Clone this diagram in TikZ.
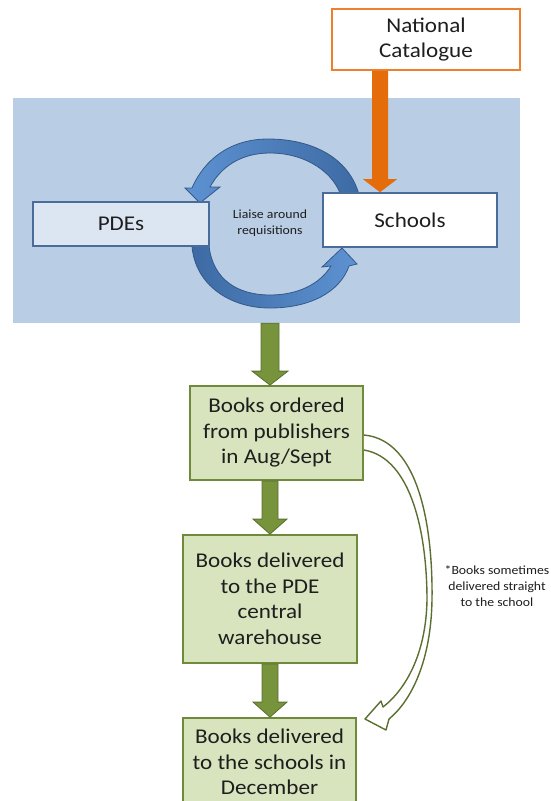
\documentclass[tikz,border=0pt]{standalone}
\usepackage{fontspec}
\setmainfont{Carlito}[FakeStretch=1.1]
\usetikzlibrary{calc}
\definecolor{bgblue}{HTML}{B9CDE5}
\definecolor{pdefill}{HTML}{DCE6F2}
\definecolor{boxblue}{HTML}{4A6C9B}
\definecolor{arrdark}{HTML}{3D6AA3}
\definecolor{arrlight}{HTML}{5D92D2}
\definecolor{arrborder}{HTML}{34598A}
\definecolor{orangeA}{HTML}{E46C0A}
\definecolor{orangeB}{HTML}{EE7F2D}
\definecolor{gfill}{HTML}{D7E4BD}
\definecolor{gborder}{HTML}{6F8A3A}
\definecolor{garrow}{HTML}{77933C}
\definecolor{garrowb}{HTML}{5A7030}
\definecolor{txt}{HTML}{1E1E1E}
\tikzset{
  bigtext/.style={font=\fontsize{21}{25.5}\selectfont, text=txt, align=center, inner sep=0pt},
  smalltext/.style={font=\fontsize{12.5}{16}\selectfont, text=txt, align=center, inner sep=0pt},
  bluebox/.style={bigtext, draw=boxblue, line width=1.6pt},
  orangebox/.style={bigtext, draw=orangeB, fill=white, line width=1.8pt},
  greenbox/.style={bigtext, draw=gborder, fill=gfill, line width=1.8pt},
  circarrow/.style={draw=arrborder, line width=0.8pt},
  greenarrow/.style={fill=garrow, draw=garrowb, line width=0.8pt},
  orangearrow/.style={fill=orangeA},
  hollowarrow/.style={draw=garrowb, fill=white, line width=1.4pt, line join=round}
}
% style, from, to, half shaft, half head, head length
\newcommand{\vblockarrow}[6]{%
  \path[#1] let \p1=(#2), \p2=(#3) in
    (\x1-#4pt,\y1) -- (\x1-#4pt,\y2+#6pt) -- (\x1-#5pt,\y2+#6pt) -- (\x1,\y2)
    -- (\x1+#5pt,\y2+#6pt) -- (\x1+#4pt,\y2+#6pt) -- (\x1+#4pt,\y1) -- cycle;}
\begin{document}
\begin{tikzpicture}[x=1pt,y=-1pt]
\useasboundingbox (0,0) rectangle (550,801);
\clip (0,0) rectangle (550,801);

% blue background
\node[fill=bgblue, minimum width=507pt, minimum height=225pt, inner sep=0pt] (bg) at (266.5,210.5) {};

% circular arrows
\path[circarrow, left color=arrlight, right color=arrdark]
  (360,206) -- (360,199) .. controls (352,160) and (315,139) .. (268,139)
  .. controls (232,139) and (205,158) .. (192,188) -- (185,188) -- (200,203) -- (220,187) -- (210,187)
  .. controls (222,165) and (243,153) .. (270,153)
  .. controls (305,153) and (335,172) .. (342,199) -- (342,206) -- cycle;
\path[circarrow, left color=arrdark, right color=arrlight]
  (192,238) -- (192,246) .. controls (195,285) and (230,308) .. (270,308)
  .. controls (310,308) and (340,292) .. (349,266) -- (357,264) -- (342,248) -- (322,267) -- (331,266)
  .. controls (320,284) and (298,295) .. (270,295)
  .. controls (238,295) and (213,280) .. (209,246) -- (209,238) -- cycle;

% PDEs and Schools
\node[bluebox, fill=pdefill, minimum width=176pt, minimum height=44pt] (pdes) at (121,224) {PDEs};
\node[bluebox, fill=white, minimum width=174pt, minimum height=54pt] (sch) at (410,220) {Schools};
\node[smalltext] (liaise) at (270,223) {Liaise around\\requisitions};

% National Catalogue
\node[orangebox, minimum width=188pt, minimum height=61pt] (nc) at (426,39.5) {National\\Catalogue};
\vblockarrow{orangearrow}{$(nc.south)+(-46,0)$}{$(sch.north)+(-30,0)$}{8}{17}{13}

% green flow
\node[greenbox, minimum width=173pt, minimum height=94pt] (b1) at (276.5,433) {Books ordered\\from publishers\\in Aug/Sept};
\node[greenbox, minimum width=174pt, minimum height=128pt] (b2) at (270,599) {Books delivered\\to the PDE\\central\\warehouse};
\node[greenbox, minimum width=173pt, minimum height=88pt] (b3) at (269.5,762) {Books delivered\\to the schools in\\December};

\vblockarrow{greenarrow}{bg.south -| b2.north}{b1.north -| b2.north}{9}{18}{14}
\vblockarrow{greenarrow}{b1.south -| b2.north}{b2.north}{8}{17}{15}
\vblockarrow{greenarrow}{b2.south}{b3.north}{8}{17}{15}

% curved hollow arrow
\path[hollowarrow] ($(b1.east)+(0,2)$) .. controls (420,440) and (433,530) .. (432,600)
  .. controls (431,660) and (412,700) .. (389,719) -- (386,730) -- (365,719) -- (381,701) -- (383,707)
  .. controls (405,690) and (426,655) .. (427,600)
  .. controls (427,535) and (412,458) .. ($(b1.east)+(0,17)$);
\node[smalltext] (note) at (497,586) {*Books sometimes\\delivered straight\\to the school};
\end{tikzpicture}
\end{document}
